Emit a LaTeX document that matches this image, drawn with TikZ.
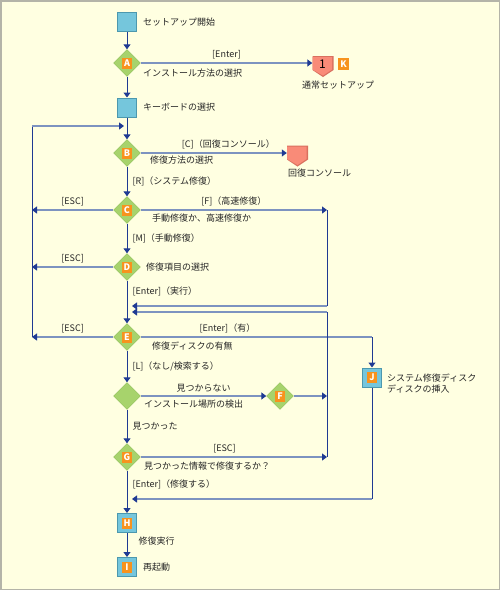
\documentclass[tikz,border=0pt]{standalone}
\usepackage{fontspec}
\setmainfont{Noto Sans CJK JP}
\usetikzlibrary{arrows.meta, positioning, shapes.geometric}
\definecolor{paperBg}{HTML}{FFFFE1}
\definecolor{frameGray}{HTML}{B4B4A8}
\definecolor{flowBlue}{HTML}{1F3A93}
\definecolor{branchBlue}{HTML}{7D93C0}
\definecolor{boxCyan}{HTML}{75C6DC}
\definecolor{boxEdge}{HTML}{4C98AE}
\definecolor{decGreen}{HTML}{A7D36C}
\definecolor{decEdge}{HTML}{8EBD58}
\definecolor{tagOrange}{HTML}{F7931E}
\definecolor{endSalmon}{HTML}{F98B78}
\definecolor{endEdge}{HTML}{D9705F}

\begin{document}
\begin{tikzpicture}[x=1pt, y=-1pt,
    every node/.style={font=\fontsize{9}{11}\selectfont, text=black!85},
    procbox/.style={draw=boxEdge, fill=boxCyan, line width=1pt, minimum size=19pt, inner sep=0pt},
    decision/.style={diamond, draw=decEdge, fill=decGreen, minimum size=27pt, inner sep=0pt},
    tagbox/.style={fill=tagOrange, text=white, font=\fontsize{9}{9}\selectfont\bfseries, minimum width=10pt, minimum height=11pt, inner sep=0pt},
    endpoint/.style={rectangle, minimum width=21pt, minimum height=21pt, inner sep=0pt,
      path picture={\fill[endEdge] (path picture bounding box.north west) -- (path picture bounding box.north east)
          -- ([yshift=7pt]path picture bounding box.south east) -- (path picture bounding box.south)
          -- ([yshift=7pt]path picture bounding box.south west) -- cycle;
        \fill[endSalmon] ([shift={(0pt,-1pt)}]path picture bounding box.north west) -- ([shift={(-1.5pt,-1pt)}]path picture bounding box.north east)
          -- ([shift={(-1.5pt,7.5pt)}]path picture bounding box.south east) -- ([yshift=1.5pt]path picture bounding box.south)
          -- ([yshift=7.5pt]path picture bounding box.south west) -- cycle;}},
    note/.style={anchor=west, inner sep=0pt},
    cond/.style={right=5pt, inner sep=0pt},
    flow/.style={draw=flowBlue, line width=1pt, -{Triangle[length=5pt, width=7pt]}},
    vline/.style={draw=flowBlue, line width=1pt},
    hflow/.style={draw=branchBlue, line width=1.6pt, -{Triangle[length=5pt, width=7pt, color=flowBlue]}},
    hline/.style={draw=branchBlue, line width=1.6pt}]
  \useasboundingbox (0,0) rectangle (500,590);
  \fill[paperBg] (0,0) rectangle (500,590);
  \draw[frameGray, line width=1.5pt] (0.75,0.75) rectangle (499.25,589.25);

  \node[procbox] (start) at (127,22) {};
  \node[note, right=6pt of start] (startText) {セットアップ開始};
  \node[decision] (a) at (127,63) {};
  \node[tagbox] (tagA) at (a) {A};
  \node[note] (aText) at (143,73) {インストール方法の選択};
  \node[endpoint] (setup) at (323,66.5) {};
  \node[font=\fontsize{12}{12}\selectfont, text=black, inner sep=0pt] (setupNum) at (322.5,64) {1};
  \node[tagbox, minimum width=11pt, minimum height=12pt] (tagK) at (343.5,64) {K};
  \node[note] (setupText) at (302,85) {通常セットアップ};
  \node[procbox] (kbd) at (127,107.5) {};
  \node[note, right=6pt of kbd] (kbdText) {キーボードの選択};
  \node[decision] (b) at (127,153) {};
  \node[tagbox] (tagB) at (b) {B};
  \node[note] (bText) at (150,160) {修復方法の選択};
  \node[endpoint] (console) at (297.5,156) {};
  \node[note] (consoleText) at (288,173) {回復コンソール};
  \node[decision] (c) at (127,210) {};
  \node[tagbox] (tagC) at (c) {C};
  \node[note] (cText) at (152,218) {手動修復か、高速修復か};
  \node[decision] (d) at (127,267) {};
  \node[tagbox] (tagD) at (d) {D};
  \node[note] (dText) at (146,267) {修復項目の選択};
  \node[decision] (e) at (127,337) {};
  \node[tagbox] (tagE) at (e) {E};
  \node[note] (eText) at (152,346) {修復ディスクの有無};
  \node[procbox] (j) at (372,377.5) {};
  \node[tagbox] (tagJ) at (j) {J};
  \node[note, align=left] (jText) at (387,384) {システム修復ディスク\\ディスクの挿入};
  \node[decision] (detect) at (127,396) {};
  \node[note] (detectText) at (144,404) {インストール場所の検出};
  \node[decision] (f) at (280,396) {};
  \node[tagbox] (tagF) at (f) {F};
  \node[decision] (g) at (127,457) {};
  \node[tagbox] (tagG) at (g) {G};
  \node[note] (gText) at (144,466) {見つかった情報で修復するか？};
  \node[procbox] (h) at (127,523) {};
  \node[tagbox] (tagH) at (h) {H};
  \node[procbox] (i) at (127,567) {};
  \node[tagbox] (tagI) at (i) {I};
  \node[note, right=6pt of i] (iText) {再起動};

  \coordinate (loopTop) at (32,126);
  \coordinate (loopBot) at (32,337);
  \coordinate (loopIn) at (124,126);
  \coordinate (rightTop) at (327,210);
  \coordinate (rightMid) at (327,306);
  \coordinate (rightUp) at (327,312);
  \coordinate (rightBot) at (327,457);
  \coordinate (backHi) at (132,306);
  \coordinate (backLo) at (132,312);
  \coordinate (diskTurn) at (372,337);
  \coordinate (diskDown) at (372,499);
  \coordinate (diskBack) at (132,499);

  \draw[flow] (start) -- (a);
  \draw[hflow] (a) -- (a -| setup.west) node[midway, above=0pt] {[Enter]};
  \draw[flow] (a) -- (kbd);
  \draw[flow] (kbd) -- (b);
  \draw[vline] (loopBot) -- (loopTop);
  \draw[hflow] (loopTop) -- (loopIn);
  \draw[hflow] (b) -- (b -| console.west) node[pos=0.6, above=0pt] {[C]（回復コンソール）};
  \draw[flow] (b) -- (c) node[midway, cond] {[R]（システム修復）};
  \draw[hflow] (c) -- (c -| loopTop) node[midway, above=0pt] {[ESC]};
  \draw[hflow] (c) -- (rightTop) node[midway, above=0pt] {[F]（高速修復）};
  \draw[vline] (rightTop) -- (rightMid);
  \draw[hflow] (rightMid) -- (backHi);
  \draw[flow] (c) -- (d) node[midway, cond] {[M]（手動修復）};
  \draw[hflow] (d) -- (d -| loopTop) node[midway, above=0pt] {[ESC]};
  \draw[flow] (d) -- (e) node[pos=0.25, cond] {[Enter]（実行）};
  \draw[hflow] (e) -- (e -| loopTop) node[midway, above=0pt] {[ESC]};
  \draw[hline] (e) -- (diskTurn) node[pos=0.375, above=0pt] {[Enter]（有）};
  \draw[flow] (diskTurn) -- (j);
  \draw[flow] (e) -- (detect) node[midway, cond] {[L]（なし/検索する）};
  \draw[hflow] (detect) -- (f) node[midway, above=0pt] {見つからない};
  \draw[hflow] (f) -- (f -| rightTop);
  \draw[vline] (rightUp) -- (rightBot);
  \draw[hflow] (rightUp) -- (backLo);
  \draw[flow] (detect) -- (g) node[midway, cond] {見つかった};
  \draw[hflow] (g) -- (rightBot) node[pos=0.45, above=0pt] {[ESC]};
  \draw[flow] (g) -- (h) node[pos=0.33, cond] {[Enter]（修復する）};
  \draw[vline] (j) -- (diskDown);
  \draw[hflow] (diskDown) -- (diskBack);
  \draw[flow] (h) -- (i) node[pos=0.35, right=11pt, inner sep=0pt] {修復実行};
\end{tikzpicture}
\end{document}
